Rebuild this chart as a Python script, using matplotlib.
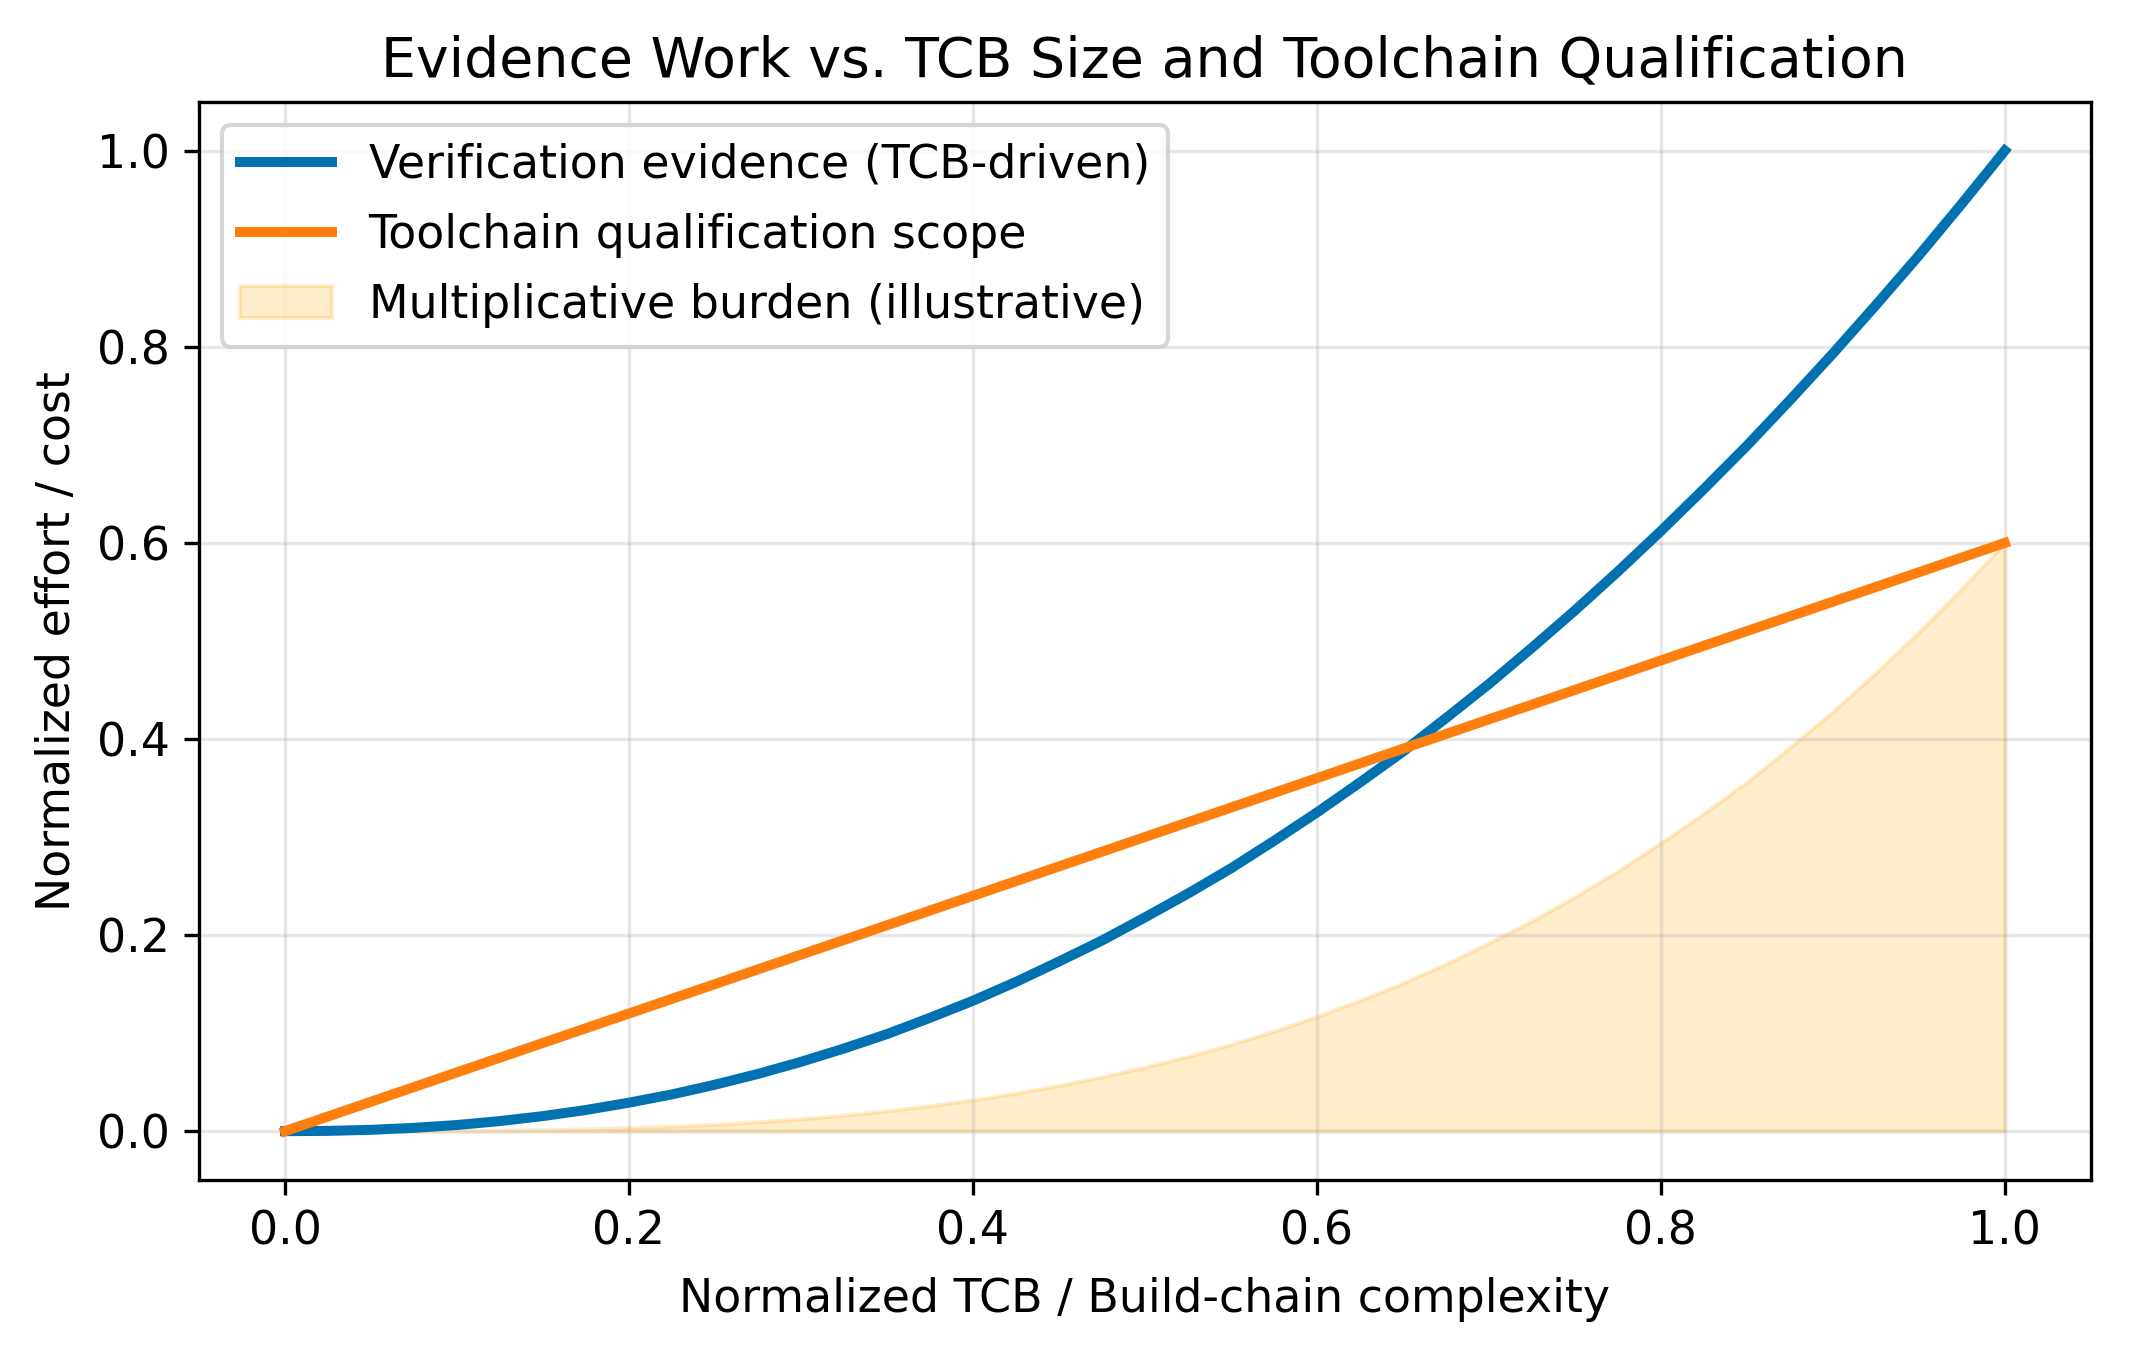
import matplotlib
matplotlib.use("Agg")
import matplotlib.pyplot as plt

# values
tcb = [0.0, 0.025, 0.05, 0.075, 0.1, 0.125, 0.15, 0.175, 0.2, 0.225, 0.25,
       0.275, 0.3, 0.325, 0.35, 0.375, 0.4, 0.425, 0.45, 0.475, 0.5,
       0.525, 0.55, 0.575, 0.6, 0.625, 0.65, 0.675, 0.7, 0.725, 0.75,
       0.775, 0.8, 0.825, 0.85, 0.875, 0.9, 0.925, 0.95, 0.975, 1.0]
verification = [0.0, 0.0003, 0.0014, 0.0034, 0.0063, 0.0103, 0.0154, 0.0216, 0.0291, 0.0375, 0.0474,
                0.0584, 0.0707, 0.0843, 0.099, 0.1156, 0.133, 0.1522, 0.173, 0.1944, 0.218,
                0.2423, 0.268, 0.296, 0.325, 0.3556, 0.387, 0.4212, 0.456, 0.4929, 0.531,
                0.5707, 0.612, 0.6549, 0.699, 0.7454, 0.793, 0.8424, 0.893, 0.9458, 1.0]
toolchain = [0.0, 0.015, 0.03, 0.045, 0.06, 0.075, 0.09, 0.105, 0.12, 0.135, 0.15,
             0.165, 0.18, 0.195, 0.21, 0.225, 0.24, 0.255, 0.27, 0.285, 0.30,
             0.315, 0.33, 0.345, 0.36, 0.375, 0.39, 0.405, 0.42, 0.435, 0.45,
             0.465, 0.48, 0.495, 0.51, 0.525, 0.54, 0.555, 0.57, 0.585, 0.60]
burden = [0.0, 0.0, 0.00004, 0.00015, 0.0004, 0.0008, 0.0014, 0.0023, 0.0035, 0.0051, 0.0071,
          0.0096, 0.0127, 0.0164, 0.0208, 0.026, 0.032, 0.0388, 0.0467, 0.0554, 0.0654,
          0.0763, 0.0884, 0.1021, 0.117, 0.1334, 0.151, 0.1706, 0.192, 0.2144, 0.239,
          0.2654, 0.294, 0.3242, 0.356, 0.3913, 0.428, 0.4675, 0.509, 0.5533, 0.60]

fig, ax = plt.subplots(figsize=(2140 / 300, 1355 / 300), dpi=300)
fig.subplots_adjust(left=0.093, right=0.977, top=0.925, bottom=0.129)

ax.plot(tcb, verification, color="#0072B2", lw=2.4, label="Verification evidence (TCB-driven)")
ax.plot(tcb, toolchain, color="#FF7F0E", lw=2.4, label="Toolchain qualification scope")
ax.fill_between(tcb, 0, burden, color="orange", alpha=0.2, label="Multiplicative burden (illustrative)")

ax.set_title("Evidence Work vs. TCB Size and Toolchain Qualification", fontsize=13.3)
ax.set_xlabel("Normalized TCB / Build-chain complexity", fontsize=11, labelpad=5.5)
ax.set_ylabel("Normalized effort / cost", fontsize=11)
ax.tick_params(labelsize=11)
ax.grid(True, alpha=0.3)
ax.legend(loc="upper left", fontsize=11, labelspacing=0.55)

fig.savefig("out.png", dpi=300)
